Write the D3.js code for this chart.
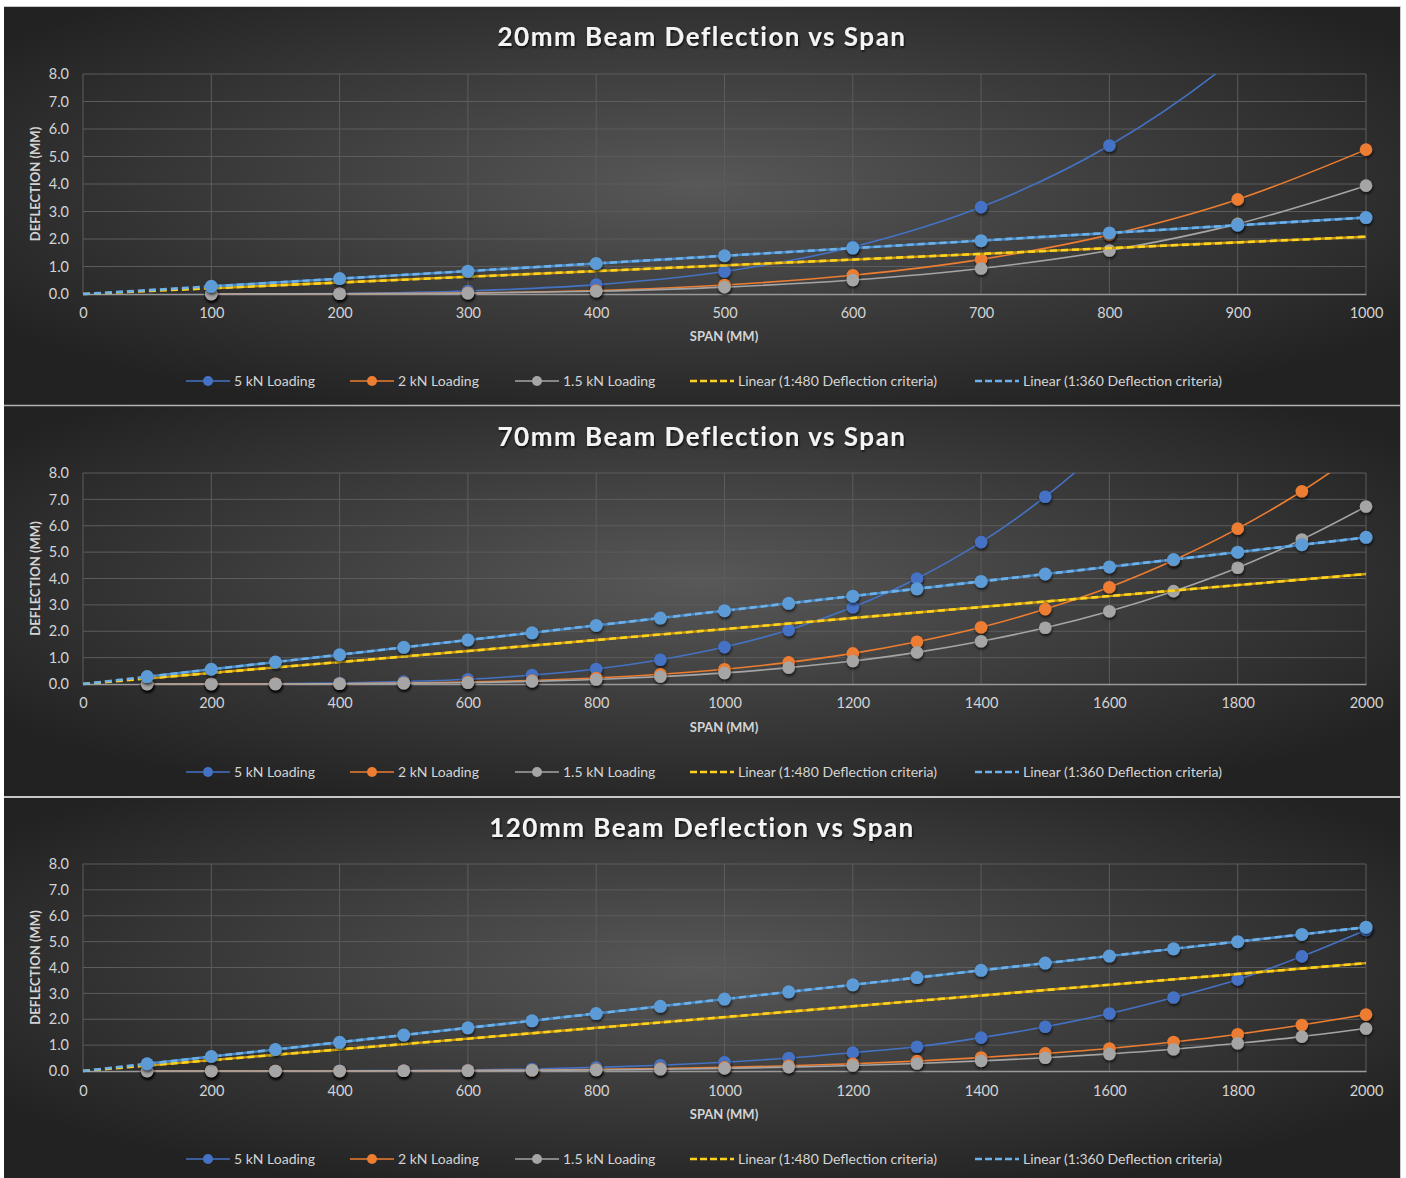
<!DOCTYPE html>
<html>
<head>
<meta charset="utf-8">
<script src="https://cdn.jsdelivr.net/npm/d3@7"></script>
<style>
  body { margin: 0; background: #fff; }
  text { font-family: Lato, "Open Sans", sans-serif; }
</style>
</head>
<body>
<svg id="chart" width="1406" height="1178"></svg>
<script>
// ---- data ----
const titles = [
    "20mm Beam Deflection vs Span",
    "70mm Beam Deflection vs Span",
    "120mm Beam Deflection vs Span",
];
const seriesNames = [
    "5 kN Loading",
    "2 kN Loading",
    "1.5 kN Loading",
    "Linear (1:480 Deflection criteria)",
    "Linear (1:360 Deflection criteria)",
];

const spans1000 = [100, 200, 300, 400, 500, 600, 700, 800, 900, 1000];
const spans2000 = [100, 200, 300, 400, 500, 600, 700, 800, 900, 1000,
    1100, 1200, 1300, 1400, 1500, 1600, 1700, 1800, 1900, 2000];

// 20mm beam
const beam20_5kN = [0.00, 0.02, 0.11, 0.34, 0.82, 1.71, 3.16, 5.40, 8.65, 13.2];
const beam20_2kN = [0.00, 0.01, 0.04, 0.13, 0.33, 0.68, 1.26, 2.15, 3.44, 5.25];
const beam20_15kN = [0.00, 0.01, 0.03, 0.10, 0.25, 0.51, 0.93, 1.58, 2.55, 3.94];
const crit480_1000 = [0.21, 0.42, 0.63, 0.83, 1.04, 1.25, 1.46, 1.67, 1.88, 2.08];
const crit360_1000 = [0.28, 0.56, 0.83, 1.11, 1.39, 1.67, 1.94, 2.22, 2.50, 2.78];

// 70mm beam
const beam70_5kN = [0.00, 0.00, 0.01, 0.04, 0.09, 0.18, 0.34, 0.57, 0.92, 1.40,
    2.05, 2.91, 4.00, 5.38, 7.10, 9.19, 11.7, 14.7, 18.3, 22.4];
const beam70_2kN = [0.00, 0.00, 0.01, 0.01, 0.04, 0.07, 0.13, 0.23, 0.37, 0.56,
    0.82, 1.16, 1.60, 2.15, 2.84, 3.67, 4.69, 5.89, 7.31, 8.97];
const beam70_15kN = [0.00, 0.00, 0.00, 0.01, 0.03, 0.05, 0.10, 0.17, 0.28, 0.42,
    0.62, 0.87, 1.20, 1.62, 2.13, 2.76, 3.52, 4.41, 5.48, 6.73];

// 120mm beam
const beam120_5kN = [0.00, 0.00, 0.00, 0.01, 0.02, 0.04, 0.08, 0.14, 0.22, 0.34,
    0.50, 0.71, 0.94, 1.29, 1.71, 2.22, 2.84, 3.54, 4.43, 5.45];
const beam120_2kN = [0.00, 0.00, 0.00, 0.00, 0.01, 0.02, 0.03, 0.06, 0.09, 0.14,
    0.20, 0.28, 0.38, 0.52, 0.68, 0.87, 1.12, 1.42, 1.78, 2.18];
const beam120_15kN = [0.00, 0.00, 0.00, 0.00, 0.01, 0.01, 0.03, 0.04, 0.07, 0.10,
    0.15, 0.21, 0.29, 0.39, 0.51, 0.66, 0.84, 1.07, 1.33, 1.64];

const crit480_2000 = [0.21, 0.42, 0.63, 0.83, 1.04, 1.25, 1.46, 1.67, 1.88, 2.08,
    2.29, 2.50, 2.71, 2.92, 3.13, 3.33, 3.54, 3.75, 3.96, 4.17];
const crit360_2000 = [0.28, 0.56, 0.83, 1.11, 1.39, 1.67, 1.94, 2.22, 2.50, 2.78,
    3.06, 3.33, 3.61, 3.89, 4.17, 4.44, 4.72, 5.00, 5.28, 5.56];

const yMax = 8;

// ---- layout ----
const colors = ["#4472c4", "#ed7d31", "#a5a5a5", "#ffc000", "#5b9bd5"];
const dashColors = [null, null, null, "#ffd21f", "#6cb1ea"];
const baseColors = [null, null, null, "#c79a12", "#4a88c4"];
const legendX = [186, 350, 515, 690, 975];

const panels = [
    { top: 6, bottom: 405, title: 37, plotTop: 74, plotBottom: 294, ticks: 313, axis: 336, legend: 381,
      xMax: 1000, spans: spans1000,
      series: [beam20_5kN, beam20_2kN, beam20_15kN, crit480_1000, crit360_1000] },
    { top: 406, bottom: 796, title: 437, plotTop: 473, plotBottom: 684, ticks: 703, axis: 727, legend: 772,
      xMax: 2000, spans: spans2000,
      series: [beam70_5kN, beam70_2kN, beam70_15kN, crit480_2000, crit360_2000] },
    { top: 798, bottom: 1178, title: 828, plotTop: 864, plotBottom: 1071, ticks: 1091, axis: 1114, legend: 1159,
      xMax: 2000, spans: spans2000,
      series: [beam120_5kN, beam120_2kN, beam120_15kN, crit480_2000, crit360_2000] },
];

const left = 83, right = 1366;

const svg = d3.select("#chart");
const defs = svg.append("defs");

const grad = defs.append("radialGradient")
    .attr("id", "bg")
    .attr("cx", "50%").attr("cy", "45%").attr("r", "62%");
grad.append("stop").attr("offset", "0%").attr("stop-color", "#585858");
grad.append("stop").attr("offset", "55%").attr("stop-color", "#3a3a3a");
grad.append("stop").attr("offset", "100%").attr("stop-color", "#222222");

const shadow = defs.append("filter").attr("id", "shadow")
    .attr("x", "-50%").attr("y", "-50%").attr("width", "200%").attr("height", "200%");
shadow.append("feDropShadow")
    .attr("dx", 0.6).attr("dy", 2).attr("stdDeviation", 1.4)
    .attr("flood-color", "#000").attr("flood-opacity", 0.7);

const titleShadow = defs.append("filter").attr("id", "tshadow")
    .attr("x", "-10%").attr("y", "-30%").attr("width", "120%").attr("height", "160%");
titleShadow.append("feDropShadow")
    .attr("dx", 1).attr("dy", 1.5).attr("stdDeviation", 1.2)
    .attr("flood-color", "#000").attr("flood-opacity", 0.8);

svg.append("rect").attr("width", 1406).attr("height", 1178).attr("fill", "#fff");

panels.forEach((p, pi) => {
    const g = svg.append("g");

    g.append("rect")
        .attr("x", 4).attr("y", p.top)
        .attr("width", 1396).attr("height", p.bottom - p.top)
        .attr("fill", "url(#bg)");

    const x = d3.scaleLinear().domain([0, p.xMax]).range([left, right]);
    const y = d3.scaleLinear().domain([0, yMax]).range([p.plotBottom, p.plotTop]);

    // grid
    g.append("g")
        .selectAll("line.h")
        .data(y.ticks(8).slice(1))
        .join("line")
        .attr("x1", left).attr("x2", right)
        .attr("y1", d => y(d)).attr("y2", d => y(d))
        .attr("stroke", "#5c5c5c").attr("stroke-width", 1);

    g.append("g")
        .selectAll("line.v")
        .data(x.ticks(10))
        .join("line")
        .attr("x1", d => x(d)).attr("x2", d => x(d))
        .attr("y1", p.plotTop).attr("y2", p.plotBottom)
        .attr("stroke", "#5c5c5c").attr("stroke-width", 1);

    // x axis
    const xAxis = g.append("g")
        .attr("transform", `translate(0,${p.plotBottom})`)
        .call(d3.axisBottom(x).ticks(10).tickFormat(d3.format("d")).tickSize(0).tickPadding(0));
    xAxis.select(".domain").attr("stroke", "#9a9a9a").attr("stroke-width", 1.3);
    xAxis.selectAll("text")
        .attr("y", p.ticks - p.plotBottom).attr("dy", "0.35em")
        .attr("fill", "#d4d4d4").style("font-size", "14.5px");

    // y axis
    const yAxis = g.append("g")
        .attr("transform", `translate(${left},0)`)
        .call(d3.axisLeft(y).ticks(8).tickFormat(d3.format(".1f")).tickSize(0).tickPadding(14));
    yAxis.select(".domain").remove();
    yAxis.selectAll("text").attr("fill", "#d4d4d4").style("font-size", "14.5px");

    // titles
    g.append("text")
        .attr("x", 702).attr("y", p.title).attr("dy", "0.35em")
        .attr("text-anchor", "middle")
        .attr("fill", "#f4f4f4")
        .attr("filter", "url(#tshadow)")
        .style("font-size", "26px").style("font-weight", "bold").style("letter-spacing", "1.5px")
        .text(titles[pi]);

    g.append("text")
        .attr("x", 724).attr("y", p.axis).attr("dy", "0.35em")
        .attr("text-anchor", "middle")
        .attr("fill", "#d4d4d4")
        .style("font-size", "13px").style("font-weight", "bold")
        .text("SPAN (MM)");

    g.append("text")
        .attr("transform", `translate(35,${(p.plotTop + p.plotBottom) / 2}) rotate(-90)`)
        .attr("dy", "0.35em")
        .attr("text-anchor", "middle")
        .attr("fill", "#d4d4d4")
        .style("font-size", "13px").style("font-weight", "bold")
        .text("DEFLECTION (MM)");

    // clip
    defs.append("clipPath").attr("id", "clip" + pi)
        .append("rect")
        .attr("x", left - 10).attr("y", p.plotTop)
        .attr("width", right - left + 20).attr("height", p.plotBottom - p.plotTop + 12);

    const plot = g.append("g").attr("clip-path", `url(#clip${pi})`);

    const line = d3.line()
        .x(d => x(d[0]))
        .y(d => y(d[1]))
        .curve(d3.curveCatmullRom.alpha(0.5));

    p.series.forEach((vals, si) => {
        const pts = p.spans.map((s, i) => [s, vals[i]]);
        if (si < 3) {
            plot.append("path")
                .attr("d", line(pts))
                .attr("fill", "none")
                .attr("stroke", colors[si]).attr("stroke-width", 1.6);
            plot.append("g")
                .selectAll("circle")
                .data(pts.filter(d => d[1] <= yMax))
                .join("circle")
                .attr("cx", d => x(d[0])).attr("cy", d => y(d[1]))
                .attr("r", 6.3)
                .attr("fill", colors[si])
                .attr("filter", "url(#shadow)");
        } else {
            // criteria series line
            plot.append("path")
                .attr("d", d3.line().x(d => x(d[0])).y(d => y(d[1]))(pts))
                .attr("fill", "none")
                .attr("stroke", baseColors[si]).attr("stroke-width", 2.4);
            // linear trendline through origin
            const slope = d3.sum(pts, d => d[0] * d[1]) / d3.sum(pts, d => d[0] * d[0]);
            plot.append("path")
                .attr("d", d3.line().x(d => x(d[0])).y(d => y(d[1]))([[0, 0], [p.xMax, slope * p.xMax]]))
                .attr("fill", "none")
                .attr("stroke", dashColors[si]).attr("stroke-width", 2.6)
                .attr("stroke-dasharray", "7,4");
            if (si === 4) {
                plot.append("g")
                    .selectAll("circle")
                    .data(pts)
                    .join("circle")
                    .attr("cx", d => x(d[0])).attr("cy", d => y(d[1]))
                    .attr("r", 6.5)
                    .attr("fill", colors[si])
                    .attr("filter", "url(#shadow)");
            }
        }
    });

    // legend
    const lg = g.append("g").attr("transform", `translate(0,${p.legend})`);
    seriesNames.forEach((name, si) => {
        const lx = legendX[si];
        if (si < 3) {
            lg.append("line")
                .attr("x1", lx).attr("x2", lx + 44)
                .attr("stroke", colors[si]).attr("stroke-width", 1.6);
            lg.append("circle")
                .attr("cx", lx + 22).attr("r", 5)
                .attr("fill", colors[si]);
        } else {
            lg.append("line")
                .attr("x1", lx).attr("x2", lx + 44)
                .attr("stroke", dashColors[si]).attr("stroke-width", 2.6)
                .attr("stroke-dasharray", "7,3");
        }
        lg.append("text")
            .attr("x", lx + 48).attr("dy", "0.35em")
            .attr("fill", "#d4d4d4")
            .style("font-size", "14px")
            .text(name);
    });
});

// separators and edges
svg.append("g")
    .selectAll("line")
    .data([405.5, 797])
    .join("line")
    .attr("x1", 4).attr("x2", 1400)
    .attr("y1", d => d).attr("y2", d => d)
    .attr("stroke", "#b4b4b4").attr("stroke-width", 1.6);
svg.append("line")
    .attr("x1", 1400.5).attr("x2", 1400.5).attr("y1", 6).attr("y2", 1178)
    .attr("stroke", "#c8c8c8").attr("stroke-width", 1);
svg.append("line")
    .attr("x1", 4).attr("x2", 1400).attr("y1", 6.5).attr("y2", 6.5)
    .attr("stroke", "#c8c8c8").attr("stroke-width", 1);
</script>
</body>
</html>
